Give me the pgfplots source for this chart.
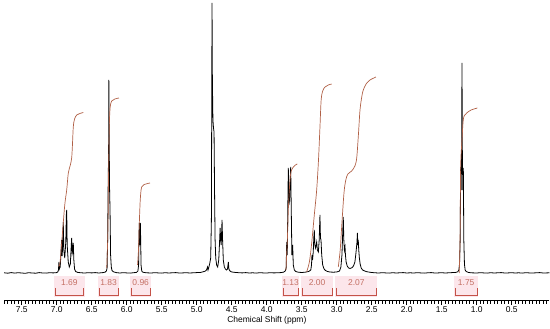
\documentclass[border=0pt]{standalone}
\usepackage{fontspec}
\setmainfont{Liberation Sans}
\usepackage{pgfplots}
\pgfplotsset{compat=1.18}
\definecolor{intcol}{RGB}{176,96,70}
\definecolor{brkcol}{RGB}{196,82,72}
\definecolor{lblcol}{RGB}{196,112,100}
\definecolor{pinkbg}{RGB}{252,230,235}
\begin{document}
\begin{tikzpicture}
\begin{axis}[
  at={(4.2bp,29bp)}, anchor=south west,
  scale only axis, width=545.3bp, height=300bp,
  x dir=reverse, xmin=-0.04, xmax=7.75, ymin=0, ymax=300,
  axis x line=bottom, axis y line=none,
  x axis line style={-},
  xtick={0.5,1.0,...,7.5},
  minor xtick={0,0.05,...,7.75},
  tick align=outside,
  major tick length=5bp, minor tick length=3.5bp,
  every tick/.style={black, line width=0.5bp},
  xticklabel style={yshift=2bp, font=\fontsize{8.5}{10}\selectfont, /pgf/number format/.cd, fixed, fixed zerofill, precision=1, assume math mode=true},
  xlabel={Chemical Shift (ppm)},
  xlabel style={font=\fontsize{8.5}{10}\selectfont, xshift=-10bp, yshift=3bp},
  clip=false,
]
% pink label boxes
\fill[pinkbg] (axis cs:7.04,3) rectangle (axis cs:6.60,24);
\fill[pinkbg] (axis cs:6.41,3) rectangle (axis cs:6.11,24);
\fill[pinkbg] (axis cs:5.95,3) rectangle (axis cs:5.65,24);
\fill[pinkbg] (axis cs:3.78,3) rectangle (axis cs:3.54,24);
\fill[pinkbg] (axis cs:3.51,3) rectangle (axis cs:3.05,24);
\fill[pinkbg] (axis cs:3.02,3) rectangle (axis cs:2.42,24);
\fill[pinkbg] (axis cs:1.33,3) rectangle (axis cs:0.98,24);
% brackets
\addplot[brkcol, line width=0.9bp] coordinates {(7.021,12) (7.021,5) (6.624,5) (6.624,12)};
\addplot[brkcol, line width=0.9bp] coordinates {(6.396,12) (6.396,5) (6.124,5) (6.124,12)};
\addplot[brkcol, line width=0.9bp] coordinates {(5.939,12) (5.939,5) (5.667,5) (5.667,12)};
\addplot[brkcol, line width=0.9bp] coordinates {(3.767,12) (3.767,5) (3.553,5) (3.553,12)};
\addplot[brkcol, line width=0.9bp] coordinates {(3.496,12) (3.496,5) (3.067,5) (3.067,12)};
\addplot[brkcol, line width=0.9bp] coordinates {(3.010,12) (3.010,5) (2.439,5) (2.439,12)};
\addplot[brkcol, line width=0.9bp] coordinates {(1.310,12) (1.310,5) (0.996,5) (0.996,12)};
\begin{scope}[every node/.style={font=\fontsize{8.5}{10}\selectfont, text=lblcol, inner sep=0pt}]
\node at (axis cs:6.82,17.5) {1.69};
\node at (axis cs:6.26,17.5) {1.83};
\node at (axis cs:5.80,17.5) {0.96};
\node at (axis cs:3.66,17.5) {1.13};
\node at (axis cs:3.28,17.5) {2.00};
\node at (axis cs:2.72,17.5) {2.07};
\node at (axis cs:1.15,17.5) {1.75};
\end{scope}
% spectrum
\addplot[black, line width=0.8bp] coordinates {
(7.75,27.2)(7.70,26.8)(7.65,27.4)(7.60,26.9)(7.55,27.3)(7.50,27.0)(7.45,26.7)(7.40,27.3)
(7.35,27.0)(7.30,26.8)(7.25,27.4)(7.20,27.0)(7.15,26.9)(7.10,27.3)(7.05,27.1)(7.00,27.4)
(6.985,28.0)(6.975,30)(6.968,38)(6.962,31)(6.950,33)(6.940,45)(6.930,60)(6.922,44)
(6.914,55)(6.906,78)(6.898,50)(6.885,42)(6.870,58)(6.862,85)(6.857,90)(6.850,55)
(6.835,38)(6.820,33)(6.805,36)(6.795,50)(6.786,62)(6.778,47)(6.770,50)(6.763,57)
(6.755,40)(6.745,31)(6.73,28.5)(6.70,27.6)(6.65,27.2)(6.60,27.0)(6.55,27.3)(6.50,27.1)
(6.45,27.4)(6.40,27.0)(6.35,27.3)(6.31,27.8)(6.29,29)(6.28,32)(6.272,60)(6.265,113)
(6.258,150)(6.255,220)(6.250,160)(6.245,113)(6.238,90)(6.230,45)(6.22,33)(6.21,29.5)
(6.19,28.2)(6.15,27.4)(6.10,27.0)(6.05,27.3)(6.00,27.1)(5.95,26.9)(5.90,27.3)(5.86,27.6)
(5.84,29)(5.83,35)(5.825,60)(5.82,77)(5.815,62)(5.81,55)(5.805,77)(5.80,60)
(5.795,35)(5.785,29)(5.77,27.8)(5.72,27.2)(5.65,27.0)(5.60,27.3)(5.55,27.1)(5.50,26.9)
(5.45,27.3)(5.40,27.0)(5.35,27.2)(5.30,27.4)(5.25,27.0)(5.20,27.1)(5.15,27.3)(5.10,27.0)
(5.05,27.2)(5.00,27.4)(4.95,27.5)(4.92,28)(4.88,28.8)(4.86,30)(4.845,33)(4.838,30)
(4.83,32)(4.815,36)(4.80,42)(4.79,80)(4.785,200)(4.781,297)(4.776,220)(4.768,180)
(4.760,172)(4.752,168)(4.745,110)(4.737,60)(4.728,42)(4.715,35)(4.70,33)(4.685,40)
(4.672,60)(4.665,72)(4.658,60)(4.650,55)(4.645,65)(4.638,80)(4.630,60)(4.620,40)
(4.605,33)(4.59,31)(4.575,30)(4.56,31)(4.548,38)(4.54,31)(4.525,29)(4.50,28)
(4.45,27.6)(4.40,27.3)(4.35,27.1)(4.30,27.4)(4.25,27.0)(4.20,27.2)(4.15,26.9)(4.10,27.3)
(4.05,27.1)(4.00,27.0)(3.95,27.3)(3.90,27.1)(3.85,27.2)(3.80,27.4)(3.76,27.8)(3.735,29)
(3.722,32)(3.714,58)(3.706,45)(3.697,100)(3.691,132)(3.683,95)(3.674,100)(3.665,118)
(3.657,133)(3.650,95)(3.640,45)(3.629,55)(3.620,35)(3.605,30)(3.585,28.5)(3.55,27.8)
(3.50,27.5)(3.45,27.8)(3.40,28.5)(3.37,30)(3.360,35)(3.353,45)(3.345,40)(3.335,48)
(3.327,62)(3.320,70)(3.312,55)(3.302,52)(3.286,58)(3.276,50)(3.262,48)(3.250,60)
(3.239,85)(3.232,62)(3.224,60)(3.214,45)(3.200,35)(3.18,31)(3.16,29.5)(3.13,28.5)
(3.10,28)(3.05,27.8)(3.00,28)(2.96,29)(2.94,33)(2.925,45)(2.906,83)(2.898,60)
(2.890,50)(2.881,53)(2.875,45)(2.865,38)(2.85,34)(2.83,32)(2.81,31.5)(2.79,32)
(2.77,33)(2.755,35)(2.74,38)(2.728,45)(2.718,52)(2.710,58)(2.704,67)(2.698,55)
(2.692,60)(2.685,50)(2.676,42)(2.665,36)(2.650,32)(2.63,30)(2.60,29)(2.57,28.3)(2.53,27.8)
(2.50,27.5)(2.45,27.2)(2.40,27.0)(2.35,27.3)(2.30,27.1)(2.25,26.9)(2.20,27.3)(2.15,27.0)
(2.10,27.2)(2.05,27.4)(2.00,27.0)(1.95,27.2)(1.90,27.0)(1.85,27.3)(1.80,27.1)(1.75,26.9)
(1.70,27.2)(1.65,27.4)(1.60,27.0)(1.55,27.1)(1.50,27.3)(1.45,27.0)(1.40,27.2)(1.35,27.4)
(1.30,27.6)(1.27,28.2)(1.255,30)(1.245,36)(1.236,60)(1.229,133)(1.222,110)(1.215,150)
(1.210,237)(1.205,150)(1.198,110)(1.191,132)(1.184,60)(1.175,36)(1.165,30)(1.15,28.5)
(1.12,27.6)(1.08,27.2)(1.00,27.0)(0.95,27.3)(0.90,27.1)(0.85,26.9)(0.80,27.3)(0.75,27.0)
(0.70,27.2)(0.65,27.4)(0.60,27.0)(0.55,27.1)(0.50,27.3)(0.45,27.0)(0.40,27.2)(0.35,26.9)
(0.30,27.3)(0.25,27.1)(0.20,27.0)(0.15,27.2)(0.10,27.4)(0.05,27.0)(0.00,27.1)(-0.04,27.2)
};
% integrals
\addplot[intcol, line width=0.7bp, smooth] coordinates {
(6.975,34)(6.953,37)(6.92,65)(6.885,95)(6.857,110)(6.834,127)(6.805,135)(6.786,142)
(6.775,155)(6.763,173)(6.745,181)(6.714,185)(6.67,186.5)(6.62,187.5)};
\addplot[intcol, line width=0.7bp, smooth] coordinates {
(6.285,32)(6.268,70)(6.258,130)(6.248,175)(6.236,193)(6.214,199)(6.17,201)(6.11,202)};
\addplot[intcol, line width=0.7bp, smooth] coordinates {
(5.845,35)(5.83,52)(5.82,76)(5.808,98)(5.795,110)(5.786,113)(5.75,115.5)(5.70,116.5)(5.667,117)};
\addplot[intcol, line width=0.7bp, smooth] coordinates {
(3.725,30)(3.705,60)(3.69,92)(3.675,112)(3.66,125)(3.645,130)(3.62,133)(3.59,135)(3.563,136)};
\addplot[intcol, line width=0.7bp, smooth] coordinates {
(3.43,28)(3.39,38)(3.357,57)(3.32,85)(3.286,110)(3.26,140)(3.239,173)(3.222,200)
(3.20,209)(3.167,213)(3.12,215)(3.071,216)};
\addplot[intcol, line width=0.7bp, smooth] coordinates {
(2.977,33)(2.95,50)(2.929,73)(2.896,107)(2.870,120)(2.840,126)(2.786,129)(2.740,134)
(2.714,142)(2.690,165)(2.667,190)(2.640,204)(2.62,210)(2.58,216)(2.524,220)(2.439,223)};
\addplot[intcol, line width=0.7bp, smooth] coordinates {
(1.25,27)(1.238,60)(1.229,133)(1.21,160)(1.195,178)(1.18,184)(1.143,187)(1.08,190)(0.99,192)};
\end{axis}
\pgfresetboundingbox
\path (0,0) rectangle (550bp,329bp);
\end{tikzpicture}
\end{document}
